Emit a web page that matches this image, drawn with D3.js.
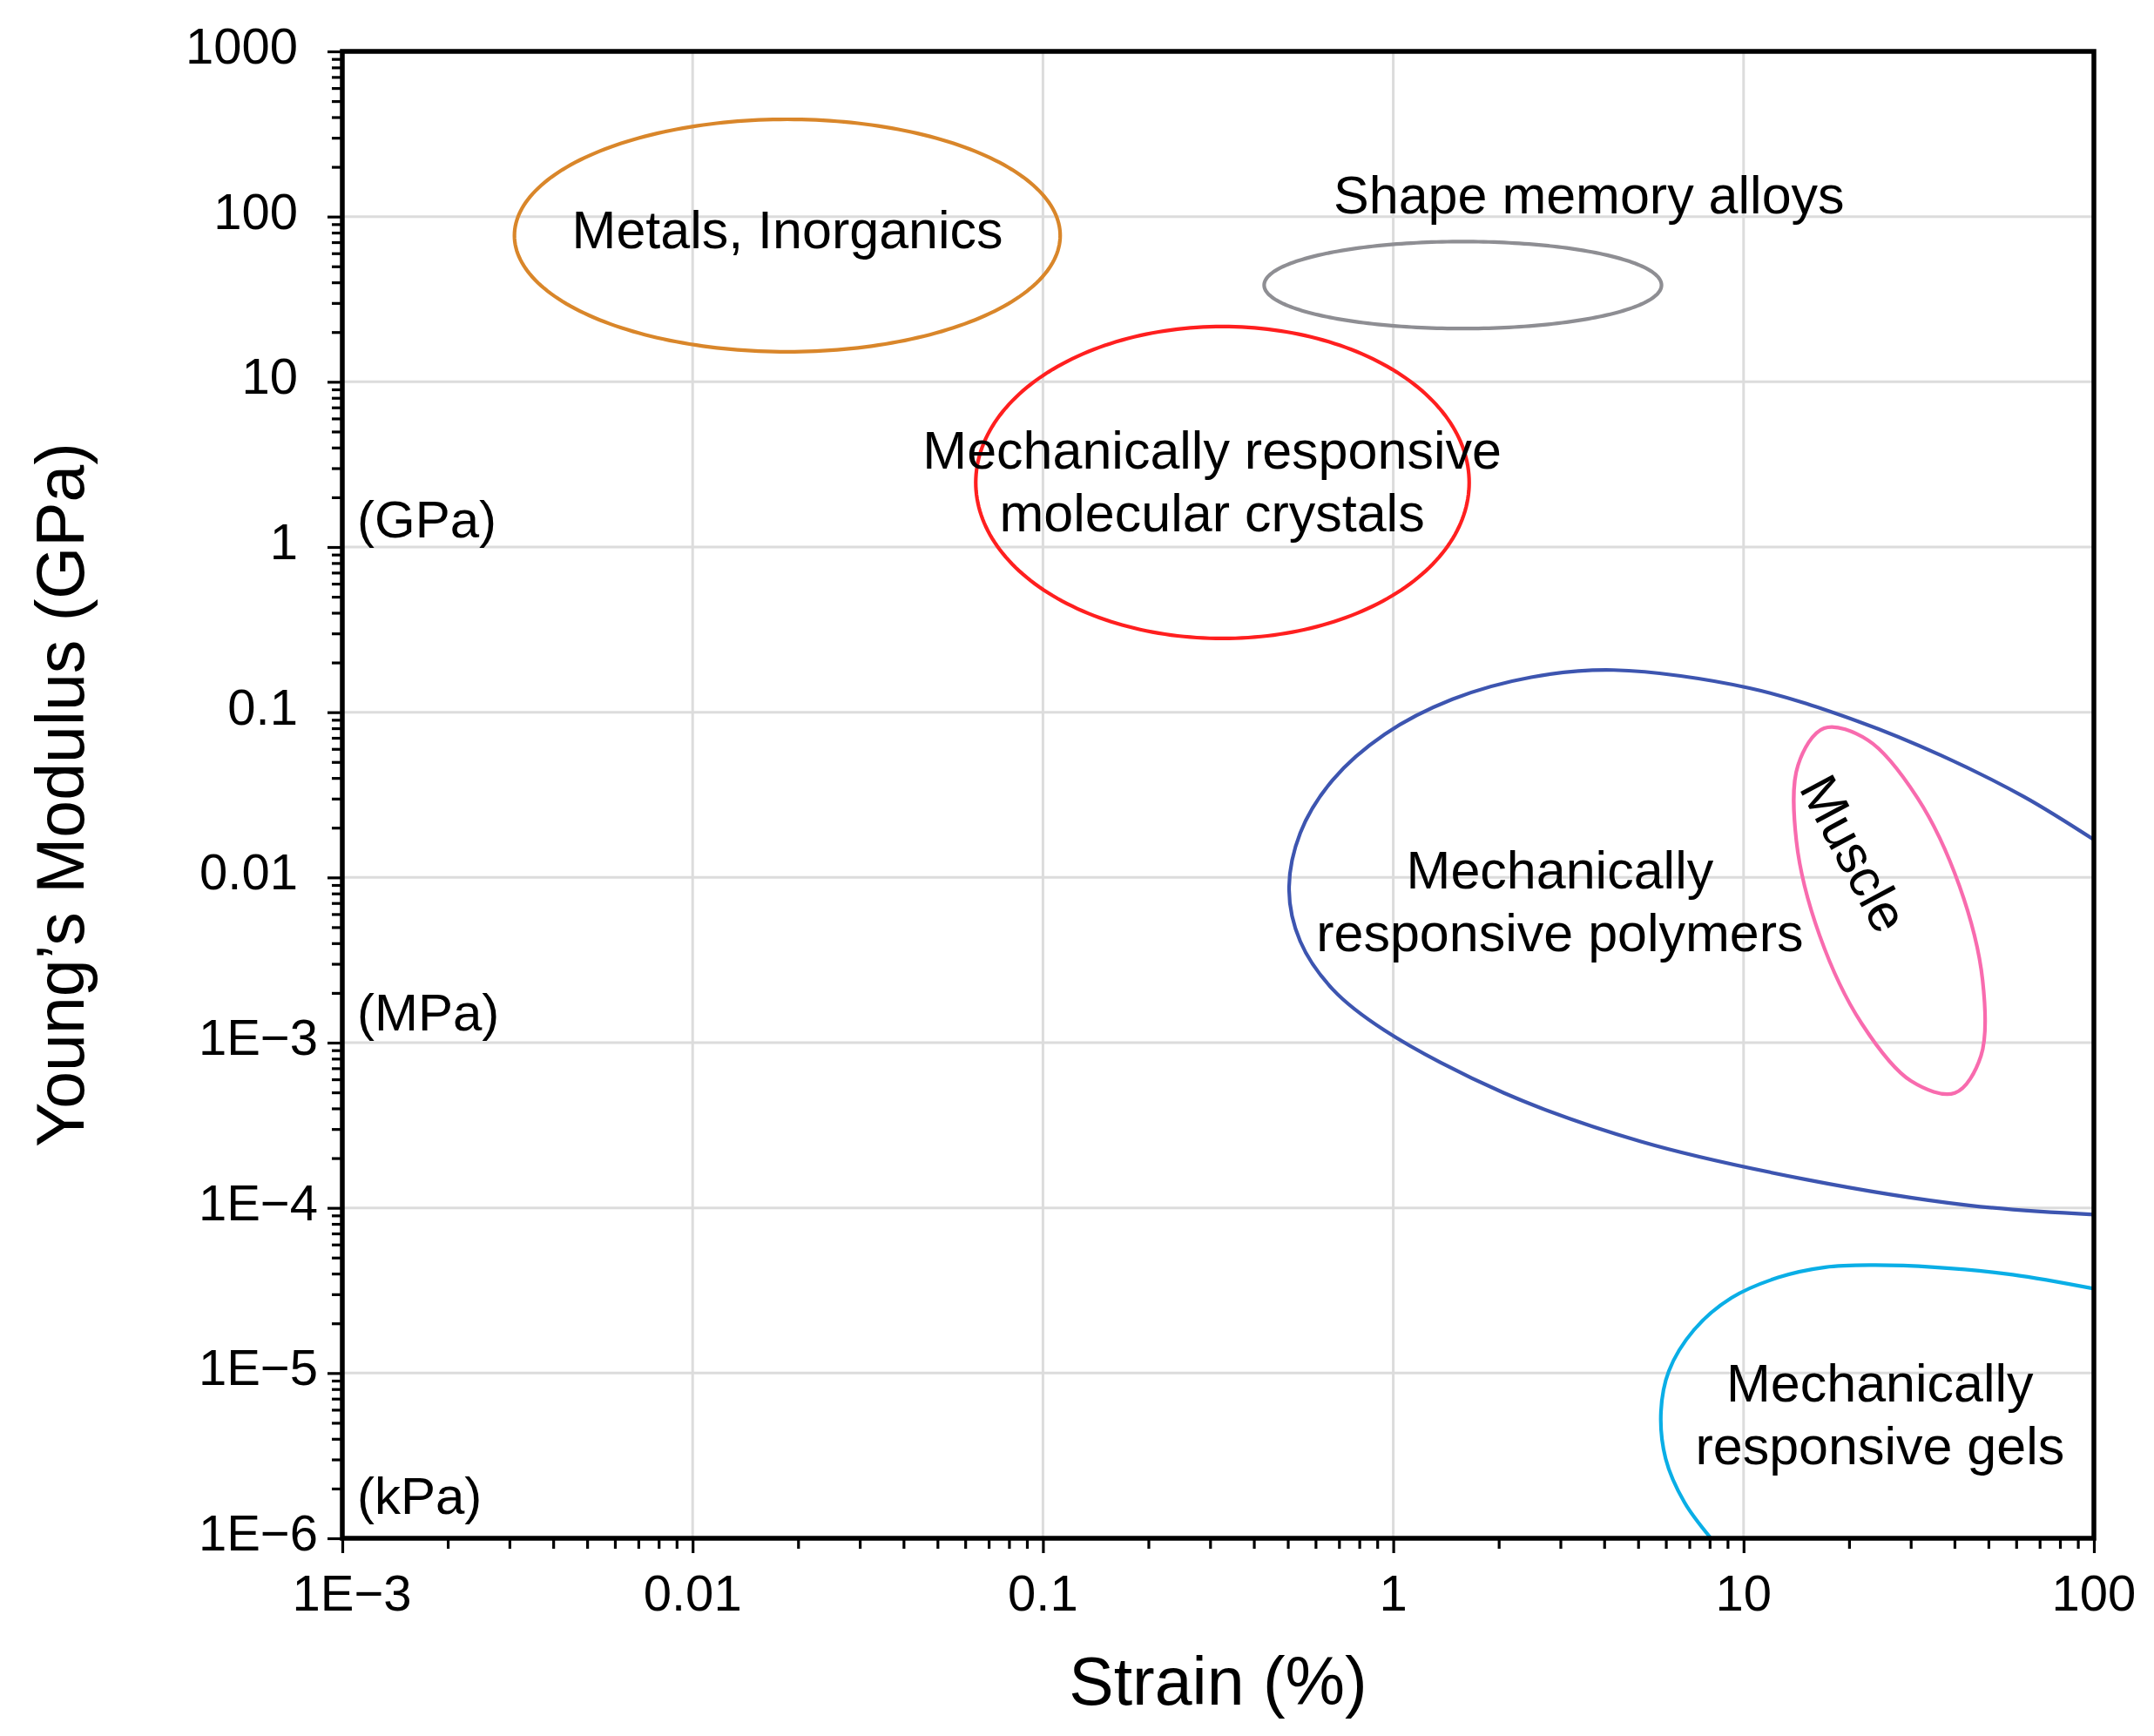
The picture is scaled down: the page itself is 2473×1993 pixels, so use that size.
<!DOCTYPE html>
<html><head><meta charset="utf-8">
<script src="https://cdn.jsdelivr.net/npm/d3@7"></script>
<style>
body{margin:0;background:#fff}
svg{display:block}
text{font-family:"Liberation Sans", Arial, Helvetica, sans-serif; fill:#000}
</style>
</head><body>
<svg id="chart" width="2473" height="1993"></svg>
<script>
// ---------------- data ----------------
const strainTicks = [0.001, 0.01, 0.1, 1, 10, 100];
const strainTickLabels = ["1E\u22123", "0.01", "0.1", "1", "10", "100"];
const modulusTicks = [1000, 100, 10, 1, 0.1, 0.01, 0.001, 1e-4, 1e-5, 1e-6];
const modulusTickLabels = ["1000", "100", "10", "1", "0.1", "0.01", "1E\u22123", "1E\u22124", "1E\u22125", "1E\u22126"];

// elliptical regions: strain range (%) and modulus range (GPa) of the bounding box
const metalsStrain = [0.0031, 0.112];
const metalsModulus = [15.2, 388];
const smaStrain = [0.428, 5.83];
const smaModulus = [21.0, 70.6];
const crystalsStrain = [0.0643, 1.647];
const crystalsModulus = [0.2796, 21.6];

// muscle (closed outline)
const muscleStrain  = [40.09, 30.07, 21.73, 16.49, 14.15, 14.30, 16.98, 22.64, 31.34, 41.29, 48.11, 47.60];
const muscleModulus = [4.96e-4, 5.855e-4, 1.306e-3, 4.446e-3, 0.0166, 0.04775, 0.07998, 0.06776, 0.03037, 8.92e-3, 2.39e-3, 8.31e-4];

// polymers (open outline, cut by the right axis)
const polymerStrain  = [100, 63.1, 36.7, 21.4, 10.4, 4.26, 2.476, 1.475, 0.9454, 0.6721, 0.5427, 0.5042, 0.5427, 0.6721, 0.9454, 2.07, 5.09, 14.96, 44.0, 100];
const polymerModulus = [0.0169, 0.0308, 0.0547, 0.0875, 0.140, 0.180, 0.1629, 0.1198, 0.07355, 0.03896, 0.01857, 8.39e-3, 4.10e-3, 2.10e-3, 1.185e-3, 4.96e-4, 2.52e-4, 1.49e-4, 1.035e-4, 9.1e-5];

// gels (open outline, cut by the right and bottom axes)
const gelStrain  = [100, 58.6, 35.1, 23.2, 17.1, 12.56, 9.23, 7.21, 6.12, 5.81, 5.99, 6.78, 8.07];
const gelModulus = [3.24e-5, 3.94e-5, 4.37e-5, 4.50e-5, 4.37e-5, 3.79e-5, 2.85e-5, 1.82e-5, 1.03e-5, 5.83e-6, 3.04e-6, 1.65e-6, 1e-6];

// labels (anchor in data units: strain %, modulus GPa of first baseline)
const labelTexts   = [["Metals, Inorganics"], ["Shape memory alloys"], ["Mechanically responsive", "molecular crystals"], ["Mechanically", "responsive polymers"], ["Mechanically", "responsive gels"]];
const labelStrain  = [0.01865, 3.62, 0.304, 2.99, 24.5];
const labelModulus = [64.4, 104.6, 2.985, 8.59e-3, 6.73e-6];
const muscleLabel = "Muscle";
const muscleLabelStrain = 20.7;
const muscleLabelModulus = 0.01396;

const unitLabels = ["(GPa)", "(MPa)", "(kPa)"];
const unitModulus = [1.144, 1.19e-3, 1.41e-6];

// ---------------- chart ----------------
const svg = d3.select("#chart");
svg.append("rect").attr("width", 2473).attr("height", 1993).attr("fill", "#fff");

const L = 393, R = 2404, T = 59, B = 1766;
const x = d3.scaleLog().domain([1e-3, 100]).range([L, R]);
const y = d3.scaleLog().domain([1e-6, 1000]).range([B, T]);

// grid
const gridColor = "#dcdcdc";
svg.append("g").selectAll("line").data(strainTicks.slice(1, -1)).join("line")
  .attr("x1", d => x(d)).attr("x2", d => x(d)).attr("y1", T).attr("y2", B)
  .attr("stroke", gridColor).attr("stroke-width", 3);
svg.append("g").selectAll("line").data(modulusTicks.slice(1, -1)).join("line")
  .attr("y1", d => y(d)).attr("y2", d => y(d)).attr("x1", L).attr("x2", R)
  .attr("stroke", gridColor).attr("stroke-width", 3);

// clip
svg.append("clipPath").attr("id", "plotClip").append("rect")
  .attr("x", L).attr("y", T).attr("width", R - L).attr("height", B - T);

const plot = svg.append("g").attr("clip-path", "url(#plotClip)");

function ellipsePoints(sr, mr, n) {
  const lx0 = Math.log10(sr[0]), lx1 = Math.log10(sr[1]);
  const ly0 = Math.log10(mr[0]), ly1 = Math.log10(mr[1]);
  const cx = (lx0 + lx1) / 2, rx = (lx1 - lx0) / 2;
  const cy = (ly0 + ly1) / 2, ry = (ly1 - ly0) / 2;
  return d3.range(n).map(i => {
    const t = 2 * Math.PI * i / n;
    return [Math.pow(10, cx + rx * Math.cos(t)), Math.pow(10, cy + ry * Math.sin(t))];
  });
}
const zip = (a, b) => a.map((v, i) => [v, b[i]]);

const closedLinear = d3.line().x(d => x(d[0])).y(d => y(d[1])).curve(d3.curveLinearClosed);
const closedSmooth = d3.line().x(d => x(d[0])).y(d => y(d[1])).curve(d3.curveCatmullRomClosed.alpha(0.5));
const openSmooth = d3.line().x(d => x(d[0])).y(d => y(d[1])).curve(d3.curveCatmullRom.alpha(0.5));

const sw = 4.2;
plot.append("path").attr("d", closedLinear(ellipsePoints(metalsStrain, metalsModulus, 240)))
  .attr("fill", "none").attr("stroke", "#D9862A").attr("stroke-width", sw);
plot.append("path").attr("d", closedLinear(ellipsePoints(smaStrain, smaModulus, 240)))
  .attr("fill", "none").attr("stroke", "#8E8E93").attr("stroke-width", sw);
plot.append("path").attr("d", closedLinear(ellipsePoints(crystalsStrain, crystalsModulus, 240)))
  .attr("fill", "none").attr("stroke", "#FF1F1F").attr("stroke-width", sw);
plot.append("path").attr("d", openSmooth(zip(polymerStrain, polymerModulus)))
  .attr("fill", "none").attr("stroke", "#3D55B0").attr("stroke-width", sw);
plot.append("path").attr("d", closedSmooth(zip(muscleStrain, muscleModulus)))
  .attr("fill", "none").attr("stroke", "#F86BAE").attr("stroke-width", sw);
plot.append("path").attr("d", openSmooth(zip(gelStrain, gelModulus)))
  .attr("fill", "none").attr("stroke", "#0AAEE6").attr("stroke-width", sw);

// region labels
const labG = svg.append("g").attr("font-size", 61).attr("text-anchor", "middle");
labelTexts.forEach((lines, i) => {
  const t = labG.append("text").attr("x", x(labelStrain[i])).attr("y", y(labelModulus[i]));
  lines.forEach((s, j) => {
    t.append("tspan").attr("x", x(labelStrain[i])).attr("dy", j === 0 ? 0 : "1.18em").text(s);
  });
});
svg.append("text")
  .attr("transform", `translate(${x(muscleLabelStrain)},${y(muscleLabelModulus)}) rotate(62)`)
  .attr("text-anchor", "middle").attr("dy", "0.35em").attr("font-size", 61).text(muscleLabel);

// unit labels
svg.append("g").attr("font-size", 60).selectAll("text").data(unitLabels).join("text")
  .attr("x", L + 17).attr("y", (d, i) => y(unitModulus[i])).text(d => d);

// minor tick values
const minorX = [];
for (let e = -3; e < 2; e++) for (let k = 2; k <= 9; k++) minorX.push(k * Math.pow(10, e));
const minorY = [];
for (let e = -6; e < 3; e++) for (let k = 2; k <= 9; k++) minorY.push(k * Math.pow(10, e));

function styleAxis(g) {
  g.select(".domain").remove();
  g.selectAll(".tick line").attr("stroke", "#000").attr("stroke-width", 3.2);
}
svg.append("g").attr("transform", `translate(${L},0)`)
  .call(d3.axisLeft(y).tickValues(modulusTicks).tickSize(17).tickFormat("")).call(styleAxis);
svg.append("g").attr("transform", `translate(${L},0)`)
  .call(d3.axisLeft(y).tickValues(minorY).tickSize(12).tickFormat("")).call(styleAxis);
svg.append("g").attr("transform", `translate(0,${B})`)
  .call(d3.axisBottom(x).tickValues(strainTicks).tickSize(17).tickFormat("")).call(styleAxis);
svg.append("g").attr("transform", `translate(0,${B})`)
  .call(d3.axisBottom(x).tickValues(minorX).tickSize(12).tickFormat("")).call(styleAxis);

// frame
svg.append("rect").attr("x", L).attr("y", T).attr("width", R - L).attr("height", B - T)
  .attr("fill", "none").attr("stroke", "#000").attr("stroke-width", 5.5);

// tick labels
const isE = s => s.indexOf("E") >= 0;
svg.append("g").attr("font-size", 58).attr("text-anchor", "end").selectAll("text")
  .data(modulusTicks).join("text")
  .attr("x", (d, i) => 342 + (isE(modulusTickLabels[i]) ? 23 : 0))
  .attr("y", d => y(d) + 14)
  .text((d, i) => modulusTickLabels[i]);
svg.append("g").attr("font-size", 58).attr("text-anchor", "middle").selectAll("text")
  .data(strainTicks).join("text")
  .attr("x", (d, i) => x(d) + (isE(strainTickLabels[i]) ? 11 : 0))
  .attr("y", 1849)
  .text((d, i) => strainTickLabels[i]);

// axis titles
svg.append("text").attr("x", (L + R) / 2).attr("y", 1957).attr("text-anchor", "middle")
  .attr("font-size", 77).text("Strain (%)");
svg.append("text").attr("transform", `translate(96,${(T + B) / 2}) rotate(-90)`)
  .attr("text-anchor", "middle").attr("font-size", 77).text("Young\u2019s Modulus (GPa)");
</script>
</body></html>
